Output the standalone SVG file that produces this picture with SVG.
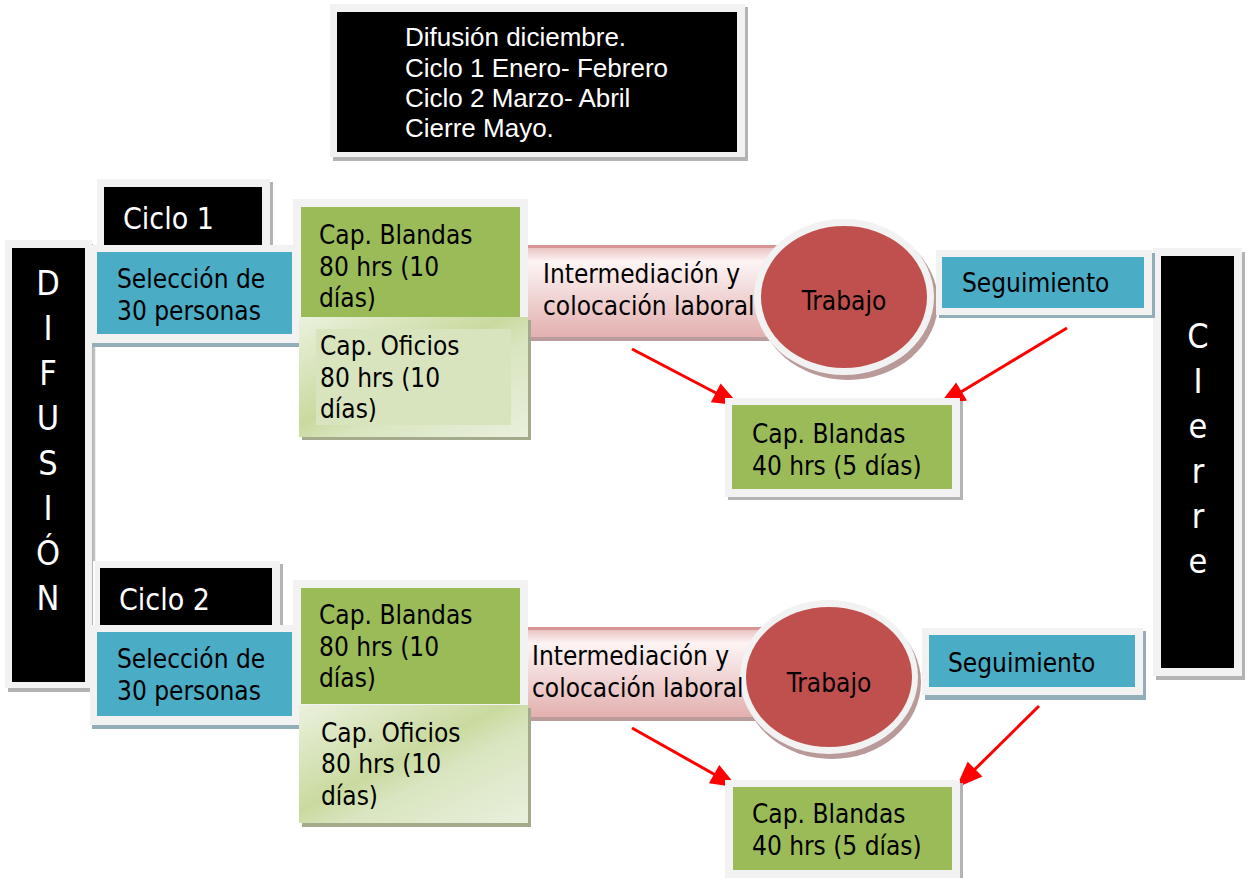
<svg xmlns="http://www.w3.org/2000/svg" width="1249" height="878" viewBox="0 0 1249 878">
<defs>
<style>
.t{font-family:"DejaVu Sans Condensed","DejaVu Sans",sans-serif;font-size:26px;fill:#000}
.w{fill:#fff}
.a{font-family:"Liberation Sans",Arial,sans-serif;font-size:26px;fill:#fff}
.fr{fill:#f2f2f2}
.sh{fill:#b3b3b3}
.shb{fill:#93aeb8}
.shg{fill:#a4ab8c}
.blk{fill:#000}
.teal{fill:#4bacc6}
.grn{fill:#9bbb59}
.red{fill:#c0504d}
.arr{stroke:#ff0000;stroke-width:3;fill:none;marker-end:url(#ah)}
</style>
<marker id="ah" markerWidth="9" markerHeight="7" refX="8" refY="3.5" orient="auto" markerUnits="strokeWidth" overflow="visible">
<path d="M0,0 L9,3.5 L0,7 Z" fill="#ff0000"/>
</marker>
<linearGradient id="pink" x1="0" y1="0" x2="0" y2="1">
<stop offset="0" stop-color="#e6b9b8"/>
<stop offset="0.18" stop-color="#fdf4f4"/>
<stop offset="1" stop-color="#e2b0af"/>
</linearGradient>
<linearGradient id="ofi" x1="0" y1="0" x2="1" y2="1">
<stop offset="0" stop-color="#ebf1de"/>
<stop offset="0.45" stop-color="#c9da9f"/>
<stop offset="0.6" stop-color="#d9e5c0"/>
<stop offset="1" stop-color="#e9f0dc"/>
</linearGradient>
</defs>

<g id="leyenda">
<rect x="333" y="7" width="415" height="154" class="sh"/>
<rect x="330" y="4" width="415" height="153" class="fr"/>
<rect x="337" y="12" width="400" height="140" class="blk"/>
<text class="a" x="405" y="46">Difusión diciembre.</text>
<text class="a" x="405" y="77">Ciclo 1 Enero- Febrero</text>
<text class="a" x="405" y="107">Ciclo 2 Marzo- Abril</text>
<text class="a" x="405" y="137">Cierre Mayo.</text>
</g>

<g id="connectors">
<line x1="94" y1="343" x2="94" y2="561" stroke="#bfbfbf" stroke-width="2.5"/>
<line class="arr" x1="632" y1="349" x2="737" y2="404"/>
<line class="arr" x1="1067" y1="328" x2="941" y2="404"/>
<line class="arr" x1="632" y1="728" x2="735" y2="786"/>
<line class="arr" x1="1039" y1="706" x2="958" y2="786"/>
</g>

<g id="difusion">
<rect x="8" y="244" width="85" height="448" class="sh"/>
<rect x="5" y="240" width="87" height="448" class="fr"/>
<rect x="12" y="248" width="73" height="434" class="blk"/>
<g class="t w" text-anchor="middle" style="font-size:34px">
<text x="48" y="295">D</text>
<text x="48" y="340">I</text>
<text x="48" y="385">F</text>
<text x="48" y="430">U</text>
<text x="48" y="475">S</text>
<text x="48" y="520">I</text>
<text x="48" y="565">Ó</text>
<text x="48" y="610">N</text>
</g>
</g>

<g id="cierre">
<rect x="1156" y="252" width="89" height="428" class="sh"/>
<rect x="1153" y="248" width="89" height="428" class="fr"/>
<rect x="1161" y="256" width="73" height="412" class="blk"/>
<g class="t w" text-anchor="middle" style="font-size:34px">
<text x="1198" y="348">C</text>
<text x="1198" y="393">I</text>
<text x="1198" y="438">e</text>
<text x="1198" y="483">r</text>
<text x="1198" y="528">r</text>
<text x="1198" y="573">e</text>
</g>
</g>

<!-- Ciclo 1 -->
<g id="ciclo1">
<rect x="100" y="182" width="173" height="73" class="sh"/>
<rect x="97" y="179" width="173" height="73" class="fr"/>
<rect x="104" y="187" width="158" height="58" class="blk"/>
<text class="t w" x="123" y="229" style="font-size:30px">Ciclo 1</text>
</g>
<g id="seleccion1">
<rect x="92" y="247" width="208" height="100" class="shb"/>
<rect x="92" y="245" width="208" height="98" class="fr"/>
<rect x="97" y="252" width="195" height="82" class="teal"/>
<text class="t" x="117" y="288">Selección de</text>
<text class="t" x="117" y="320">30 personas</text>
</g>
<g id="intermediacion1">
<rect x="528" y="247" width="262" height="94" fill="#b99c9b"/>
<rect x="528" y="245" width="262" height="92" fill="url(#pink)"/>
<rect x="528" y="245" width="262" height="3" fill="#d99594"/>
<text class="t" x="543" y="283">Intermediación y</text>
<text class="t" x="543" y="315">colocación laboral</text>
</g>
<g id="blandas1">
<rect x="293" y="199" width="235" height="126" class="fr"/>
<rect x="301" y="207" width="219" height="110" class="grn"/>
<text class="t" x="319" y="244">Cap. Blandas</text>
<text class="t" x="319" y="276">80 hrs (10</text>
<text class="t" x="319" y="307">días)</text>
</g>
<g id="oficios1">
<rect x="302" y="320" width="229" height="120" class="shg"/>
<rect x="299" y="317" width="229" height="120" fill="url(#ofi)"/>
<rect x="316" y="329" width="195" height="96" fill="#d7e4bd"/>
<text class="t" x="320" y="355">Cap. Oficios</text>
<text class="t" x="320" y="387">80 hrs (10</text>
<text class="t" x="320" y="418">días)</text>
</g>
<g id="trabajo1">
<ellipse cx="848" cy="302" rx="90" ry="78" fill="#b99a99"/>
<ellipse cx="844" cy="297" rx="90" ry="78" class="fr"/>
<ellipse cx="844" cy="297" rx="83" ry="71" class="red"/>
<text class="t" x="844" y="310" text-anchor="middle">Trabajo</text>
</g>
<g id="seguimiento1">
<rect x="939" y="253" width="216" height="65" class="shb"/>
<rect x="936" y="250" width="216" height="65" class="fr"/>
<rect x="942" y="257" width="202" height="51" class="teal"/>
<text class="t" x="962" y="292">Seguimiento</text>
</g>
<g id="blandas40_1">
<rect x="728" y="401" width="235" height="99" class="sh"/>
<rect x="725" y="398" width="235" height="99" class="fr"/>
<rect x="732" y="405" width="220" height="84" class="grn"/>
<text class="t" x="752" y="443">Cap. Blandas</text>
<text class="t" x="752" y="475">40 hrs (5 días)</text>
</g>

<!-- Ciclo 2 -->
<g id="ciclo2">
<rect x="98" y="564" width="185" height="72" class="sh"/>
<rect x="95" y="561" width="185" height="72" class="fr"/>
<rect x="100" y="568" width="172" height="58" class="blk"/>
<text class="t w" x="119" y="610" style="font-size:30px">Ciclo 2</text>
</g>
<g id="seleccion2">
<rect x="92" y="627" width="208" height="102" class="shb"/>
<rect x="90" y="625" width="210" height="100" class="fr"/>
<rect x="97" y="632" width="195" height="84" class="teal"/>
<text class="t" x="117" y="668">Selección de</text>
<text class="t" x="117" y="700">30 personas</text>
</g>
<g id="intermediacion2">
<rect x="528" y="629" width="245" height="92" fill="#b99c9b"/>
<rect x="528" y="627" width="245" height="90" fill="url(#pink)"/>
<rect x="528" y="627" width="245" height="3" fill="#d99594"/>
</g>
<g id="trabajo2">
<ellipse cx="832" cy="682" rx="89" ry="77" fill="#b99a99"/>
<ellipse cx="829" cy="677" rx="89" ry="77" class="fr"/>
<ellipse cx="829" cy="677" rx="83" ry="70" class="red"/>
<text class="t" x="829" y="692" text-anchor="middle">Trabajo</text>
</g>
<g id="intermediacion2-text">
<text class="t" x="532" y="665">Intermediación y</text>
<text class="t" x="532" y="697">colocación laboral</text>
</g>
<g id="blandas2">
<rect x="293" y="580" width="235" height="132" class="fr"/>
<rect x="301" y="588" width="219" height="116" class="grn"/>
<text class="t" x="319" y="624">Cap. Blandas</text>
<text class="t" x="319" y="656">80 hrs (10</text>
<text class="t" x="319" y="687">días)</text>
</g>
<g id="oficios2">
<rect x="302" y="708" width="229" height="119" class="shg"/>
<rect x="299" y="705" width="229" height="118" fill="url(#ofi)"/>
<text class="t" x="321" y="742">Cap. Oficios</text>
<text class="t" x="321" y="773">80 hrs (10</text>
<text class="t" x="321" y="805">días)</text>
</g>
<g id="seguimiento2">
<rect x="925" y="631" width="221" height="69" class="shb"/>
<rect x="922" y="628" width="221" height="67" class="fr"/>
<rect x="929" y="635" width="206" height="52" class="teal"/>
<text class="t" x="948" y="672">Seguimiento</text>
</g>
<g id="blandas40_2">
<rect x="728" y="783" width="235" height="98" class="sh"/>
<rect x="725" y="780" width="235" height="98" class="fr"/>
<rect x="733" y="787" width="219" height="83" class="grn"/>
<text class="t" x="752" y="823">Cap. Blandas</text>
<text class="t" x="752" y="855">40 hrs (5 días)</text>
</g>
</svg>
